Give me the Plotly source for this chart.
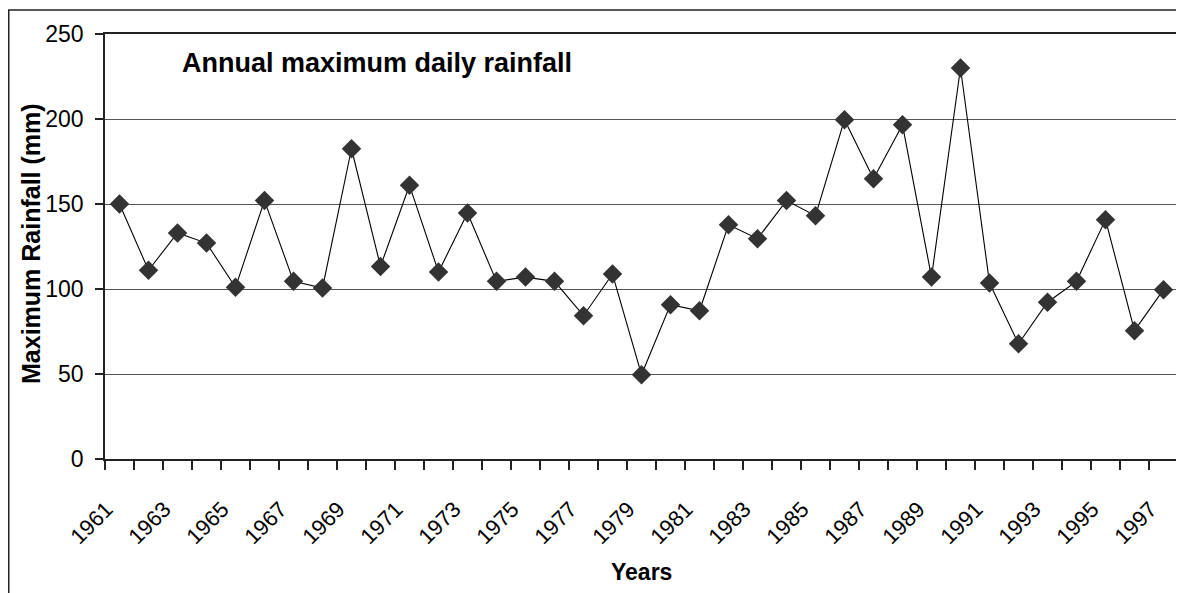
import plotly.graph_objects as go

years = list(range(1961, 1998))
rainfall = [150, 111, 133, 127, 101, 152, 104.5, 100.6, 182.5, 113.3,
            161, 110, 144.7, 104.5, 107, 104.5, 84.3, 108.8, 49.6, 90.8,
            87.2, 137.8, 129.6, 152, 143.1, 199.6, 164.9, 196.6, 107, 230,
            103.5, 67.8, 92.2, 104.5, 140.8, 75.5, 99.6]
tick_years = list(range(1961, 1998, 2))
tick_labels = [str(y) for y in tick_years]

FONT = "Liberation Sans, Arial, sans-serif"

# page body has an 8px default margin; plot area on screen: x 105-1178, y 34-459
OFF = 8
PL, PR, PT, PB = 105, 1178, 34, 459
W, H = 1184 - OFF, 593 - OFF
PW, PH = PR - PL, PB - PT


def px(xs):
    return (xs - PL) / PW


def py(ys):
    return (PB - ys) / PH


fig = go.Figure()
fig.add_trace(go.Scatter(
    x=years, y=rainfall, mode="lines+markers",
    line=dict(color="black", width=1.1),
    marker=dict(symbol="diamond", size=15, color="#333333",
                line=dict(width=0)),
    showlegend=False,
))

fig.update_layout(
    width=W, height=H,
    margin=dict(l=PL - OFF, r=W - (PR - OFF), t=PT - OFF, b=H - (PB - OFF),
                pad=0, autoexpand=False),
    paper_bgcolor="white", plot_bgcolor="white",
    font=dict(family=FONT, color="black", size=20),
    xaxis=dict(
        range=[1960.5, 1997.5],
        tickmode="array", tickvals=[y - 0.45 for y in tick_years],
        ticktext=tick_labels,
        tickangle=-45, ticks="", ticklabelstandoff=27,
        tickfont=dict(size=22),
        showgrid=False, zeroline=False,
        showline=True, linecolor="#222222", linewidth=1.5, mirror=True,
        minor=dict(tickmode="linear", tick0=1960.5, dtick=1,
                   ticks="outside", ticklen=9, tickcolor="#222222",
                   tickwidth=1.5, showgrid=False),
    ),
    yaxis=dict(
        range=[0, 250], tickmode="linear", tick0=0, dtick=50,
        ticks="outside", ticklen=8, tickcolor="#222222", tickwidth=1.5,
        tickfont=dict(size=23), ticklabelstandoff=7,
        showgrid=True, gridcolor="#555555", gridwidth=1.2,
        zeroline=False,
        showline=True, linecolor="#222222", linewidth=1.5, mirror=True,
    ),
)

fig.add_annotation(
    xref="paper", yref="paper", x=px(180), y=py(63),
    xanchor="left", yanchor="middle", showarrow=False,
    text="<b>Annual maximum daily rainfall</b>", font=dict(size=27),
)
fig.add_annotation(
    xref="paper", yref="paper", x=px(31), y=py(244),
    xanchor="center", yanchor="middle", showarrow=False, textangle=-90,
    text="<b>Maximum Rainfall (mm)</b>", font=dict(size=25),
)
fig.add_annotation(
    xref="paper", yref="paper", x=px(641), y=py(572),
    xanchor="center", yanchor="middle", showarrow=False,
    text="<b>Years</b>", font=dict(size=23),
)

# outer chart-area border (cropped on right/bottom)
fig.add_shape(
    type="rect", xref="paper", yref="paper",
    x0=px(8.75), x1=px(1200), y0=py(620), y1=py(10),
    line=dict(color="#222222", width=1.5), layer="below",
)

fig.write_html("out.html")
